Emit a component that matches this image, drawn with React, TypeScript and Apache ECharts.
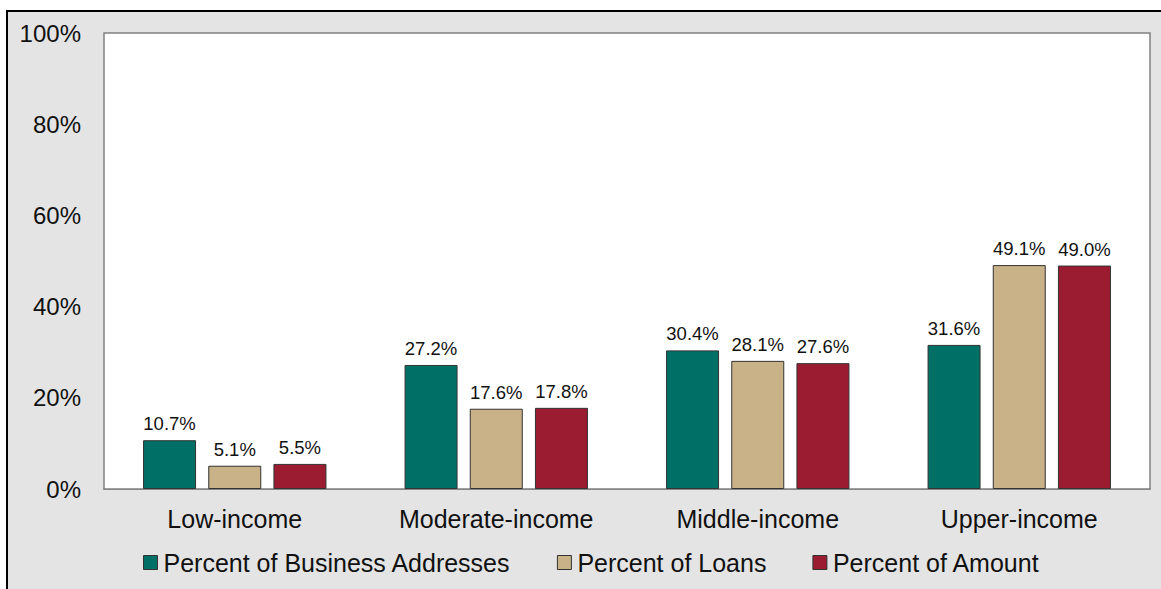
import React, { useEffect, useRef } from "react";
import * as echarts from "echarts";

const categories = ["Low-income", "Moderate-income", "Middle-income", "Upper-income"];
const seriesNames = ["Percent of Business Addresses", "Percent of Loans", "Percent of Amount"];
const businessAddresses = [10.7, 27.2, 30.4, 31.6];
const loans = [5.1, 17.6, 28.1, 49.1];
const amount = [5.5, 17.8, 27.6, 49.0];
const colors = ["#006f65", "#c9b288", "#9b1b30"];

const FONT = "'Liberation Sans', Arial, sans-serif";

export default function App() {
  const ref = useRef<HTMLDivElement>(null);
  useEffect(() => {
    if (!ref.current) return;
    const chart = echarts.init(ref.current, undefined, { renderer: "svg" });
    const values = [businessAddresses, loans, amount];
    chart.setOption({
      animation: false,
      backgroundColor: "#ffffff",
      textStyle: { fontFamily: FONT },
      graphic: [
        {
          type: "rect",
          z: -100,
          zlevel: 0,
          shape: { x: 7, y: 11, width: 1300, height: 700 },
          style: { fill: "#e4e4e4", stroke: "#000000", lineWidth: 2 },
          silent: true,
        },
      ],
      grid: {
        left: 104,
        top: 33,
        right: 11,
        bottom: 100,
        show: true,
        backgroundColor: "#ffffff",
        borderColor: "#808080",
        borderWidth: 1.5,
        z: 1,
      },
      legend: {
        data: seriesNames,
        left: 143,
        top: 550,
        padding: 0,
        itemWidth: 14,
        itemHeight: 14,
        itemGap: 46,
        icon: "rect",
        textStyle: { fontSize: 25, color: "#111", fontFamily: FONT, padding: [0, 0, 0, 1] },
        itemStyle: { borderColor: "#333", borderWidth: 1 },
      },
      xAxis: {
        type: "category",
        data: categories,
        axisTick: { show: false },
        axisLine: { show: true, lineStyle: { color: "#808080", width: 1.5 } },
        axisLabel: { fontSize: 25, color: "#111", margin: 17, fontFamily: FONT },
      },
      yAxis: {
        type: "value",
        min: 0,
        max: 100,
        interval: 20,
        splitLine: { show: false },
        axisLine: { show: false },
        axisTick: { show: false },
        axisLabel: { fontSize: 24, color: "#111", margin: 23, formatter: "{value}%", fontFamily: FONT },
      },
      series: seriesNames.map((name, i) => ({
        name,
        type: "bar",
        data: values[i],
        barWidth: 53,
        barGap: "23%",
        itemStyle: { color: colors[i], borderColor: "#333", borderWidth: 1 },
        label: {
          show: true,
          position: "top",
          distance: 7,
          fontSize: 18.5,
          color: "#111",
          fontFamily: FONT,
          formatter: (p: any) => `${Number(p.value).toFixed(1)}%`,
        },
        z: 2,
      })),
    });
    return () => chart.dispose();
  }, []);
  return (
    <div
      ref={ref}
      style={{ position: "fixed", left: 0, top: 0, width: 1161, height: 589 }}
    />
  );
}
